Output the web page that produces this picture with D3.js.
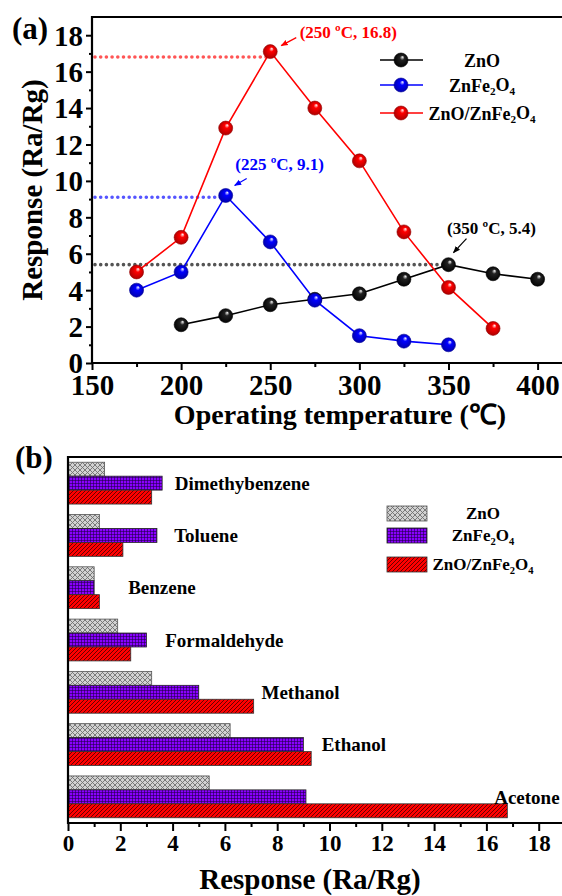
<!DOCTYPE html>
<html>
<head>
<meta charset="utf-8">
<script src="https://cdn.jsdelivr.net/npm/d3@7"></script>
<style>
body { margin: 0; background: #fff; }
svg text { font-family: "Liberation Serif", "Times New Roman", serif; font-weight: bold; }
</style>
</head>
<body>
<svg width="562" height="896"></svg>
<script>
// (a) response vs operating temperature
var znoTemps = [200, 225, 250, 275, 300, 325, 350, 375, 400];
var znoResp = [2.1, 2.6, 3.2, 3.5, 3.8, 4.6, 5.4, 4.9, 4.6];
var ferTemps = [175, 200, 225, 250, 275, 300, 325, 350];
var ferResp = [4.0, 5.0, 9.2, 6.65, 3.45, 1.5, 1.2, 1.0];
var compTemps = [175, 200, 225, 250, 275, 300, 325, 350, 375];
var compResp = [5.0, 6.9, 12.9, 17.1, 14.0, 11.1, 7.2, 4.15, 1.9];
var peakTemps = [250, 225, 350];
var peakVals = [16.8, 9.1, 5.4];
var tempTicks = [150, 200, 250, 300, 350, 400];
var respTicks = [0, 2, 4, 6, 8, 10, 12, 14, 16, 18];

// (b) selectivity
var gases = ["Dimethybenzene", "Toluene", "Benzene", "Formaldehyde", "Methanol", "Ethanol", "Acetone"];
var gasZnO = [1.4, 1.2, 1.0, 1.9, 3.2, 6.2, 5.4];
var gasFer = [3.6, 3.4, 1.0, 3.0, 5.0, 9.0, 9.1];
var gasComp = [3.2, 2.1, 1.2, 2.4, 7.1, 9.3, 16.8];
var barTicks = [0, 2, 4, 6, 8, 10, 12, 14, 16, 18];

var names = ["ZnO", "ZnFe2O4", "ZnO/ZnFe2O4"];
var colors = ["#000000", "#0000ff", "#ff0000"];
var dotColors = ["#ff5555", "#5555ff", "#555555"];

var svg = d3.select("svg");
var defs = svg.append("defs");

// write formula with subscript digits
function chem(t, s) {
  var parts = s.split(/(\d)/).filter(function(p) { return p !== ""; });
  var sub = false;
  parts.forEach(function(p) {
    var isNum = /\d/.test(p);
    var ts = t.append("tspan").text(p);
    if (isNum) { ts.attr("font-size", "0.62em").attr("dy", sub ? 0 : "0.35em"); sub = true; }
    else if (sub) { ts.attr("dy", "-0.22em"); sub = false; }
  });
}

// sphere markers
colors.forEach(function(c, i) {
  var g = defs.append("radialGradient").attr("id", "ball" + i)
    .attr("cx", "50%").attr("cy", "50%").attr("r", "55%").attr("fx", "62%").attr("fy", "28%");
  g.append("stop").attr("offset", "0%").attr("stop-color", "#ffffff");
  g.append("stop").attr("offset", "30%").attr("stop-color", i == 0 ? "#222" : c);
  g.append("stop").attr("offset", "100%").attr("stop-color", d3.color(c).darker(1.2));
  defs.append("marker").attr("id", "arr" + i)
    .attr("viewBox", "0 0 10 10").attr("refX", 9).attr("refY", 5)
    .attr("markerWidth", 6).attr("markerHeight", 6).attr("orient", "auto")
    .append("path").attr("d", "M0,1L10,5L0,9Z").attr("fill", c);
});

// ---------- (a) ----------
var x = d3.scaleLinear().domain([150, 400]).range([92, 537.6]);
var y = d3.scaleLinear().domain([0, 19]).range([363, 17]);

var ga = svg.append("g");

// dotted guide lines to peaks
peakTemps.forEach(function(t, i) {
  ga.append("line")
    .attr("x1", x(150) + 3).attr("x2", x(t))
    .attr("y1", y(peakVals[i])).attr("y2", y(peakVals[i]))
    .attr("stroke", dotColors[i]).attr("stroke-width", 3.6)
    .attr("stroke-linecap", "round").attr("stroke-dasharray", "0 5.7");
});

var series = [
  {t: znoTemps, v: znoResp},
  {t: ferTemps, v: ferResp},
  {t: compTemps, v: compResp}
];
var line = d3.line().x(function(d) { return x(d[0]); }).y(function(d) { return y(d[1]); });

series.forEach(function(s, i) {
  var pts = s.t.map(function(t, j) { return [t, s.v[j]]; });
  ga.append("path").attr("d", line(pts)).attr("fill", "none")
    .attr("stroke", colors[i]).attr("stroke-width", 1.6);
});
series.forEach(function(s, i) {
  var pts = s.t.map(function(t, j) { return [t, s.v[j]]; });
  ga.selectAll(null).data(pts).enter().append("circle")
    .attr("cx", function(d) { return x(d[0]); })
    .attr("cy", function(d) { return y(d[1]); })
    .attr("r", 7)
    .attr("fill", "url(#ball" + i + ")")
    .attr("stroke", d3.color(colors[i]).darker(1.5)).attr("stroke-width", 0.6);
});

// annotations
var annoText = [[78, -20], [54, -31], [43, -37]];
var annoArrow = [[26, -14, 11, -6], [21, -17, 9, -10], [18, -26, 5, -12]];
var annoColor = [2, 1, 0];
peakTemps.forEach(function(t, i) {
  var s = series[annoColor[i]];
  var px = x(t), py = y(s.v[s.t.indexOf(t)]);
  ga.append("text").attr("x", px + annoText[i][0]).attr("y", py + annoText[i][1])
    .attr("dy", "0.35em").attr("text-anchor", "middle")
    .attr("font-size", 17).attr("fill", colors[annoColor[i]])
    .text("(" + t + " ºC, " + peakVals[i] + ")");
  var a = annoArrow[i];
  ga.append("line").attr("x1", px + a[0]).attr("y1", py + a[1])
    .attr("x2", px + a[2]).attr("y2", py + a[3])
    .attr("stroke", colors[annoColor[i]]).attr("stroke-width", 1.2)
    .attr("marker-end", "url(#arr" + annoColor[i] + ")");
});

// axes
ga.append("g").attr("transform", "translate(0," + y(0) + ")")
  .call(d3.axisBottom(x).tickValues(tempTicks).tickSize(7).tickPadding(5))
  .call(function(g) {
    g.select(".domain").remove();
    g.selectAll("line").attr("stroke-width", 2);
    g.selectAll("text").attr("font-size", 29).attr("fill", "#000").attr("dy", "0.7em");
  });
ga.append("g").attr("transform", "translate(0," + y(0) + ")")
  .call(d3.axisBottom(x).tickValues([175, 225, 275, 325, 375]).tickSize(4).tickFormat(""))
  .call(function(g) { g.select(".domain").remove(); g.selectAll("line").attr("stroke-width", 2); });
ga.append("g").attr("transform", "translate(" + x(150) + ",0)")
  .call(d3.axisLeft(y).tickValues(respTicks).tickSize(6).tickPadding(3))
  .call(function(g) {
    g.select(".domain").remove();
    g.selectAll("line").attr("stroke-width", 2);
    g.selectAll("text").attr("font-size", 29).attr("fill", "#000").attr("dy", "0.34em");
  });
ga.append("g").attr("transform", "translate(" + x(150) + ",0)")
  .call(d3.axisLeft(y).tickValues([1, 3, 5, 7, 9, 11, 13, 15, 17]).tickSize(3).tickFormat(""))
  .call(function(g) { g.select(".domain").remove(); g.selectAll("line").attr("stroke-width", 2); });

ga.append("path")
  .attr("d", "M600," + y(19) + "H" + x(150) + "V" + y(0) + "H600")
  .attr("fill", "none").attr("stroke", "#000").attr("stroke-width", 2.2);

ga.append("text").attr("x", 340).attr("y", 424).attr("text-anchor", "middle")
  .attr("font-size", 28).text("Operating temperature (℃)");
ga.append("text").attr("transform", "translate(42," + (y(9.5)) + ") rotate(-90)")
  .attr("text-anchor", "middle").attr("font-size", 29).text("Response (Ra/Rg)");
ga.append("text").attr("x", 12).attr("y", 39).attr("font-size", 31).text("(a)");

// legend (a)
var legAy = [60, 85, 113];
names.forEach(function(n, i) {
  ga.append("line").attr("x1", 380).attr("x2", 423).attr("y1", legAy[i]).attr("y2", legAy[i])
    .attr("stroke", colors[i]).attr("stroke-width", 1.6);
  ga.append("circle").attr("cx", 401).attr("cy", legAy[i]).attr("r", 7)
    .attr("fill", "url(#ball" + i + ")").attr("stroke", d3.color(colors[i]).darker(1.5)).attr("stroke-width", 0.6);
  var t = ga.append("text").attr("x", 482).attr("y", legAy[i] + 6.5)
    .attr("text-anchor", "middle").attr("font-size", 18);
  chem(t, n);
});

// ---------- (b) ----------
// hatch patterns
var p0 = defs.append("pattern").attr("id", "hatch0").attr("patternUnits", "userSpaceOnUse")
  .attr("width", 5).attr("height", 5);
p0.append("rect").attr("width", 5).attr("height", 5).attr("fill", "#d2d2d2");
p0.append("path").attr("d", "M0,0L5,5M5,0L0,5").attr("stroke", "#707070").attr("stroke-width", 0.9);
var p1 = defs.append("pattern").attr("id", "hatch1").attr("patternUnits", "userSpaceOnUse")
  .attr("width", 3).attr("height", 3);
p1.append("rect").attr("width", 3).attr("height", 3).attr("fill", "#8a00ff");
p1.append("path").attr("d", "M0,0.3H3M0.3,0V3").attr("stroke", "#1a0040").attr("stroke-width", 0.7);
var p2 = defs.append("pattern").attr("id", "hatch2").attr("patternUnits", "userSpaceOnUse")
  .attr("width", 4).attr("height", 4);
p2.append("rect").attr("width", 4).attr("height", 4).attr("fill", "#ff0000");
p2.append("path").attr("d", "M0,4L4,0M-1,1L1,-1M3,5L5,3").attr("stroke", "#400000").attr("stroke-width", 0.8);

var xb = d3.scaleLinear().domain([0, 18]).range([68, 538.7]);
var yb = d3.scaleBand().domain(gases).range([457, 823]).paddingInner(0.2).paddingOuter(0.1);
var yi = d3.scaleBand().domain([0, 1, 2]).range([0, yb.bandwidth()]);
var barStroke = ["#555", "#222", "#333"];

var gb = svg.append("g");
var gasVals = [gasZnO, gasFer, gasComp];
gasVals.forEach(function(vals, k) {
  gb.selectAll(null).data(gases).enter().append("rect")
    .attr("x", xb(0))
    .attr("y", function(d) { return yb(d) + yi(k); })
    .attr("width", function(d, i) { return xb(vals[i]) - xb(0); })
    .attr("height", yi.bandwidth())
    .attr("fill", "url(#hatch" + k + ")")
    .attr("stroke", barStroke[k]).attr("stroke-width", 0.8);
});

// gas labels, placed in response units
var labelAt = [4.08, 4.06, 2.3, 3.72, 7.4, 9.7, 18.8];
gb.selectAll(null).data(gases).enter().append("text")
  .attr("x", function(d, i) { return xb(labelAt[i]); })
  .attr("y", function(d) { return yb(d) + yi(1) + yi.bandwidth() / 2; })
  .attr("dy", "0.35em")
  .attr("text-anchor", function(d, i) { return i == gases.length - 1 ? "end" : "start"; })
  .attr("font-size", 19).text(function(d) { return d; });

gb.append("g").attr("transform", "translate(0,823)")
  .call(d3.axisBottom(xb).tickValues(barTicks).tickSize(8).tickPadding(4))
  .call(function(g) {
    g.select(".domain").remove();
    g.selectAll("line").attr("stroke-width", 2);
    g.selectAll("text").attr("font-size", 23).attr("fill", "#000").attr("dy", "0.7em");
  });
gb.append("g").attr("transform", "translate(0,823)")
  .call(d3.axisBottom(xb).tickValues([1, 3, 5, 7, 9, 11, 13, 15, 17]).tickSize(4).tickFormat(""))
  .call(function(g) { g.select(".domain").remove(); g.selectAll("line").attr("stroke-width", 2); });

gb.append("path")
  .attr("d", "M600,457H" + xb(0) + "V823H600")
  .attr("fill", "none").attr("stroke", "#000").attr("stroke-width", 2.2);

gb.append("text").attr("x", 310).attr("y", 889).attr("text-anchor", "middle")
  .attr("font-size", 29).text("Response (Ra/Rg)");
gb.append("text").attr("x", 15).attr("y", 468).attr("font-size", 31).text("(b)");

// legend (b)
var legBy = [506, 528, 557];
names.forEach(function(n, i) {
  gb.append("rect").attr("x", 387).attr("y", legBy[i]).attr("width", 40).attr("height", 15)
    .attr("fill", "url(#hatch" + i + ")").attr("stroke", barStroke[i]).attr("stroke-width", 0.8);
  var t = gb.append("text").attr("x", 483).attr("y", legBy[i] + 13)
    .attr("text-anchor", "middle").attr("font-size", 17);
  chem(t, n);
});
</script>
</body>
</html>
